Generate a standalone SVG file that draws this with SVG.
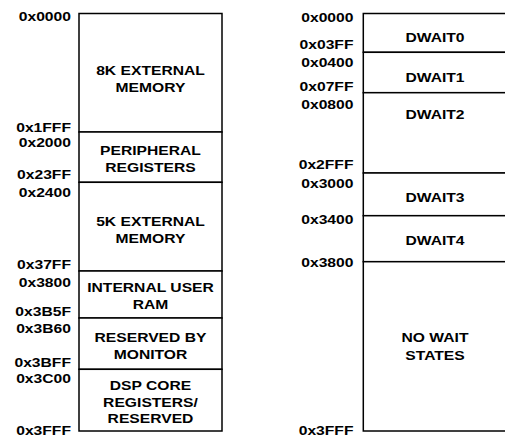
<svg xmlns="http://www.w3.org/2000/svg" width="505" height="435" viewBox="0 0 505 435">
<style>
.b{fill:#fff;stroke:#000;stroke-width:1.5}
text{font-family:"Liberation Sans",Arial,Helvetica,sans-serif;font-weight:bold;font-size:13.5px;fill:#000}
.a{text-anchor:end}
.c{text-anchor:middle}
</style>
<rect width="505" height="435" fill="#fff"/>
<g id="left-map">
<g id="ext8k"><rect class="b" x="79" y="13.5" width="143" height="118.5"/>
<text class="c" transform="translate(150.5,75) scale(1.16,1)">8K EXTERNAL</text>
<text class="c" transform="translate(150.5,91.5) scale(1.16,1)">MEMORY</text></g>
<g id="periph"><rect class="b" x="79" y="132" width="143" height="50.3"/>
<text class="c" transform="translate(150.5,155) scale(1.16,1)">PERIPHERAL</text>
<text class="c" transform="translate(150.5,171.5) scale(1.16,1)">REGISTERS</text></g>
<g id="ext5k"><rect class="b" x="79" y="182.3" width="143" height="88.7"/>
<text class="c" transform="translate(150.5,225.5) scale(1.16,1)">5K EXTERNAL</text>
<text class="c" transform="translate(150.5,243) scale(1.16,1)">MEMORY</text></g>
<g id="userram"><rect class="b" x="79" y="271" width="143" height="47"/>
<text class="c" transform="translate(150.5,292) scale(1.16,1)">INTERNAL USER</text>
<text class="c" transform="translate(150.5,309) scale(1.16,1)">RAM</text></g>
<g id="monitor"><rect class="b" x="79" y="318" width="143" height="51.3"/>
<text class="c" transform="translate(150.5,341.5) scale(1.16,1)">RESERVED BY</text>
<text class="c" transform="translate(150.5,358.5) scale(1.16,1)">MONITOR</text></g>
<g id="dspcore"><rect class="b" x="79" y="369.3" width="143" height="61.7"/>
<text class="c" transform="translate(150.5,390) scale(1.16,1)">DSP CORE</text>
<text class="c" transform="translate(150.5,407) scale(1.16,1)">REGISTERS/</text>
<text class="c" transform="translate(150.5,423) scale(1.16,1)">RESERVED</text></g>
<g id="left-addresses">
<text class="a" transform="translate(71,21.3) scale(1.16,1)">0x0000</text>
<text class="a" transform="translate(71,131.5) scale(1.16,1)">0x1FFF</text>
<text class="a" transform="translate(71,147) scale(1.16,1)">0x2000</text>
<text class="a" transform="translate(71,179) scale(1.16,1)">0x23FF</text>
<text class="a" transform="translate(71,197) scale(1.16,1)">0x2400</text>
<text class="a" transform="translate(71,269) scale(1.16,1)">0x37FF</text>
<text class="a" transform="translate(71,286.5) scale(1.16,1)">0x3800</text>
<text class="a" transform="translate(71,315.5) scale(1.16,1)">0x3B5F</text>
<text class="a" transform="translate(71,332.5) scale(1.16,1)">0x3B60</text>
<text class="a" transform="translate(71,366.5) scale(1.16,1)">0x3BFF</text>
<text class="a" transform="translate(71,382.5) scale(1.16,1)">0x3C00</text>
<text class="a" transform="translate(71,435) scale(1.16,1)">0x3FFF</text>
</g>
</g>
<g id="right-map">
<g id="dwait0"><rect class="b" x="363.3" y="13.5" width="144" height="38.8"/>
<text class="c" transform="translate(435,41.5) scale(1.16,1)">DWAIT0</text></g>
<g id="dwait1"><rect class="b" x="363.3" y="52.3" width="144" height="40.4"/>
<text class="c" transform="translate(435,82) scale(1.16,1)">DWAIT1</text></g>
<g id="dwait2"><rect class="b" x="363.3" y="92.7" width="144" height="80.3"/>
<text class="c" transform="translate(435,118.7) scale(1.16,1)">DWAIT2</text></g>
<g id="dwait3"><rect class="b" x="363.3" y="173" width="144" height="42.7"/>
<text class="c" transform="translate(435,201.5) scale(1.16,1)">DWAIT3</text></g>
<g id="dwait4"><rect class="b" x="363.3" y="215.7" width="144" height="46"/>
<text class="c" transform="translate(435,244.5) scale(1.16,1)">DWAIT4</text></g>
<g id="nowait"><rect class="b" x="363.3" y="261.7" width="144" height="169.3"/>
<text class="c" transform="translate(435,342) scale(1.16,1)">NO WAIT</text>
<text class="c" transform="translate(435,359.5) scale(1.16,1)">STATES</text></g>
<g id="right-addresses">
<text class="a" transform="translate(353.5,21.5) scale(1.16,1)">0x0000</text>
<text class="a" transform="translate(353.5,49.3) scale(1.16,1)">0x03FF</text>
<text class="a" transform="translate(353.5,67) scale(1.16,1)">0x0400</text>
<text class="a" transform="translate(353.5,91) scale(1.16,1)">0x07FF</text>
<text class="a" transform="translate(353.5,109) scale(1.16,1)">0x0800</text>
<text class="a" transform="translate(353.5,169) scale(1.16,1)">0x2FFF</text>
<text class="a" transform="translate(353.5,187.5) scale(1.16,1)">0x3000</text>
<text class="a" transform="translate(353.5,224) scale(1.16,1)">0x3400</text>
<text class="a" transform="translate(353.5,267) scale(1.16,1)">0x3800</text>
<text class="a" transform="translate(353.5,435) scale(1.16,1)">0x3FFF</text>
</g>
</g>
<g id="connectors"></g>
</svg>
